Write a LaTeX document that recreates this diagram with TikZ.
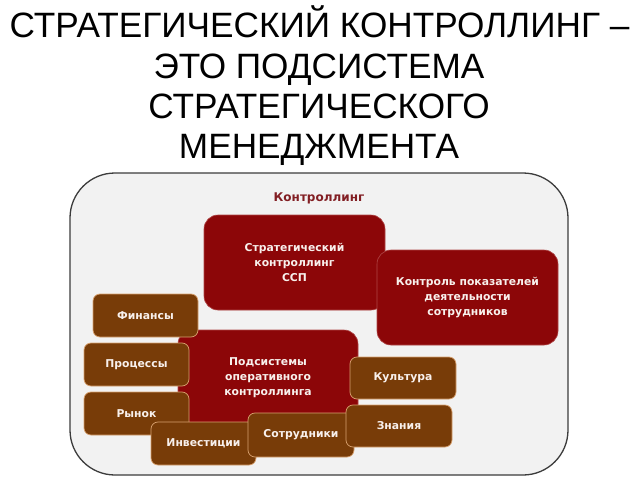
\documentclass[tikz,border=0pt]{standalone}
\usepackage{fontspec}
\setmainfont{Liberation Sans}
\newfontfamily\boxfont{DejaVu Sans}
\definecolor{boxred}{RGB}{140,6,8}
\definecolor{boxbrown}{RGB}{120,60,8}
\definecolor{rededge}{RGB}{175,70,70}
\definecolor{brownedge}{RGB}{215,160,110}
\definecolor{outerfill}{RGB}{242,242,242}
\definecolor{outeredge}{RGB}{60,60,60}
\definecolor{titlered}{RGB}{130,30,35}
\definecolor{boxtext}{RGB}{248,240,236}
\tikzset{
  redbox/.style={draw=rededge, line width=0.6pt, fill=boxred, rounded corners=14pt,
    text=boxtext, font=\boxfont\bfseries\fontsize{10.8}{15}\selectfont, align=center,
    minimum width=181pt, minimum height=95pt, inner sep=0pt},
  brownbox/.style={draw=brownedge, line width=0.7pt, fill=boxbrown, rounded corners=7pt,
    text=boxtext, font=\boxfont\bfseries\fontsize{10.8}{15}\selectfont, align=center,
    minimum width=105pt, minimum height=43pt, inner sep=0pt},
  headline/.style={anchor=base, font=\fontsize{35.2}{40}\selectfont, text=black, inner sep=0pt}
}
\begin{document}
\begin{tikzpicture}[x=1pt,y=-1pt]
\useasboundingbox[fill=white] (0,0) rectangle (638,479);
% heading
\node[headline] (h1) at (319.5,37) {СТРАТЕГИЧЕСКИЙ КОНТРОЛЛИНГ –};
\node[headline] (h2) at (319,78) {ЭТО ПОДСИСТЕМА};
\node[headline] (h3) at (319,118) {СТРАТЕГИЧЕСКОГО};
\node[headline] (h4) at (319,158) {МЕНЕДЖМЕНТА};
% outer frame
\draw[draw=outeredge, line width=1.3pt, fill=outerfill, rounded corners=45pt] (70,173) rectangle (568,475);
\node[anchor=base, text=titlered, font=\boxfont\bfseries\fontsize{12}{14}\selectfont, inner sep=0pt] (ctl) at (319,201) {Контроллинг};
% red boxes
\node[redbox] (strat) at (294.5,262.5) {Стратегический\\контроллинг\\ССП};
\node[redbox] (kontrol) at (467.5,297.5) {Контроль показателей\\деятельности\\сотрудников};
\node[redbox, minimum width=180pt, minimum height=96pt] (podsys) at (268,378) {Подсистемы\\оперативного\\контроллинга};
% brown boxes
\node[brownbox, minimum width=106pt, minimum height=42pt] (kult) at (403,378) {Культура};
\node[brownbox] (fin) at (145.5,315.5) {Финансы};
\node[brownbox] (proc) at (136.5,364.5) {Процессы};
\node[brownbox] (rynok) at (136.5,413.5) {Рынок};
\node[brownbox] (invest) at (203.5,443.5) {Инвестиции};
\node[brownbox, minimum width=106pt, minimum height=44pt] (sotr) at (301,435) {Сотрудники};
\node[brownbox, minimum width=106pt, minimum height=42pt] (znan) at (399,426) {Знания};
\end{tikzpicture}
\end{document}
